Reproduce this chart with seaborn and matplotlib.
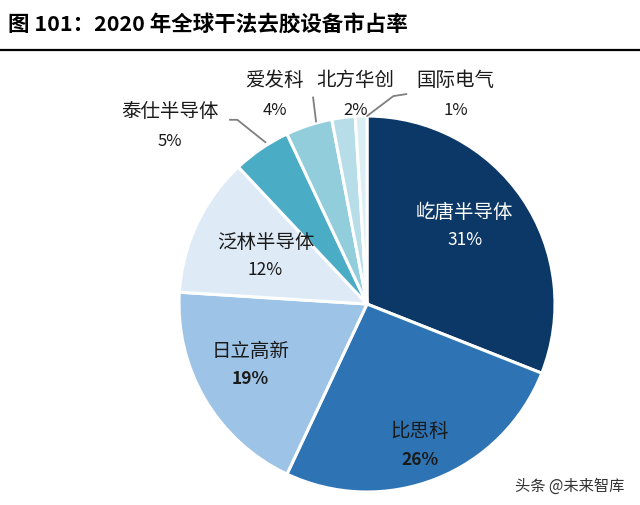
import numpy as np
import seaborn as sns
import matplotlib.pyplot as plt

sns.set_theme(style="white")
plt.rcParams['font.family'] = ['Noto Sans CJK SC', 'DejaVu Sans']

# data
companies = ['屹唐半导体', '比思科', '日立高新', '泛林半导体', '泰仕半导体', '爱发科', '北方华创', '国际电气']
shares = [31, 26, 19, 12, 5, 4, 2, 1]
colors = ['#0c3867', '#2e74b5', '#9dc3e6', '#deebf7', '#4bacc6', '#92cddc', '#b7dee8', '#daeef3']

fig = plt.figure(figsize=(6.4, 5.06), dpi=100)
fig.patch.set_facecolor('white')

# title + rule
fig.text(0.012, 0.951, '图 101：2020 年全球干法去胶设备市占率', fontsize=15.5,
         fontweight='bold', va='center', ha='left', color='black')
fig.add_artist(plt.Line2D([0, 1], [0.899, 0.899], color='black', lw=1.6))

# pie axis: centre ~ (367, 305) px, radius ~ 188 px
ax = fig.add_axes([0.2797, 0.0257, 0.5875, 0.743])
wedges, _ = ax.pie(shares, colors=colors, startangle=90, counterclock=False,
                   wedgeprops=dict(edgecolor='white', linewidth=2.2))
ax.set_xlim(-1, 1)
ax.set_ylim(-1, 1)
ax.set_aspect('equal')
ax.axis('off')

# inside labels
inside = {
    0: (0.52, 0.42, 'white'),
    1: (0.28, -0.75, '#1a1a1a'),
    2: (-0.62, -0.32, '#1a1a1a'),
    3: (-0.54, 0.26, '#1a1a1a'),
}
for i, (x, y, c) in inside.items():
    bold = 'bold' if i in (1, 2) else 'normal'
    ax.text(x, y + 0.075, companies[i], ha='center', va='center', fontsize=14, color=c)
    ax.text(x, y - 0.075, f'{shares[i]}%', ha='center', va='center', fontsize=12.5,
            color=c, fontweight=bold)

# outside labels
outside = {
    4: (-1.05, 0.955),
    5: (-0.49, 1.12),
    6: (-0.06, 1.12),
    7: (0.47, 1.12),
}
for i, (x, y) in outside.items():
    ax.text(x, y + 0.075, companies[i], ha='center', va='center', fontsize=14, color='#1a1a1a')
    ax.text(x, y - 0.085, f'{shares[i]}%', ha='center', va='center', fontsize=12, color='#1a1a1a')

# leader lines
lc = '#7f7f7f'
ax.plot([-0.73, -0.69, -0.54], [0.98, 0.98, 0.86], color=lc, lw=1.3, clip_on=False)
ax.plot([-0.287, -0.271], [1.10, 0.97], color=lc, lw=1.3, clip_on=False)
ax.plot([0.21, 0.14, 0.0], [1.117, 1.106, 1.0], color=lc, lw=1.3, clip_on=False)

fig.text(0.89, 0.038, '头条 @未来智库', fontsize=11, color='#333333', ha='center', va='center')

plt.savefig('out.png', dpi=100)
